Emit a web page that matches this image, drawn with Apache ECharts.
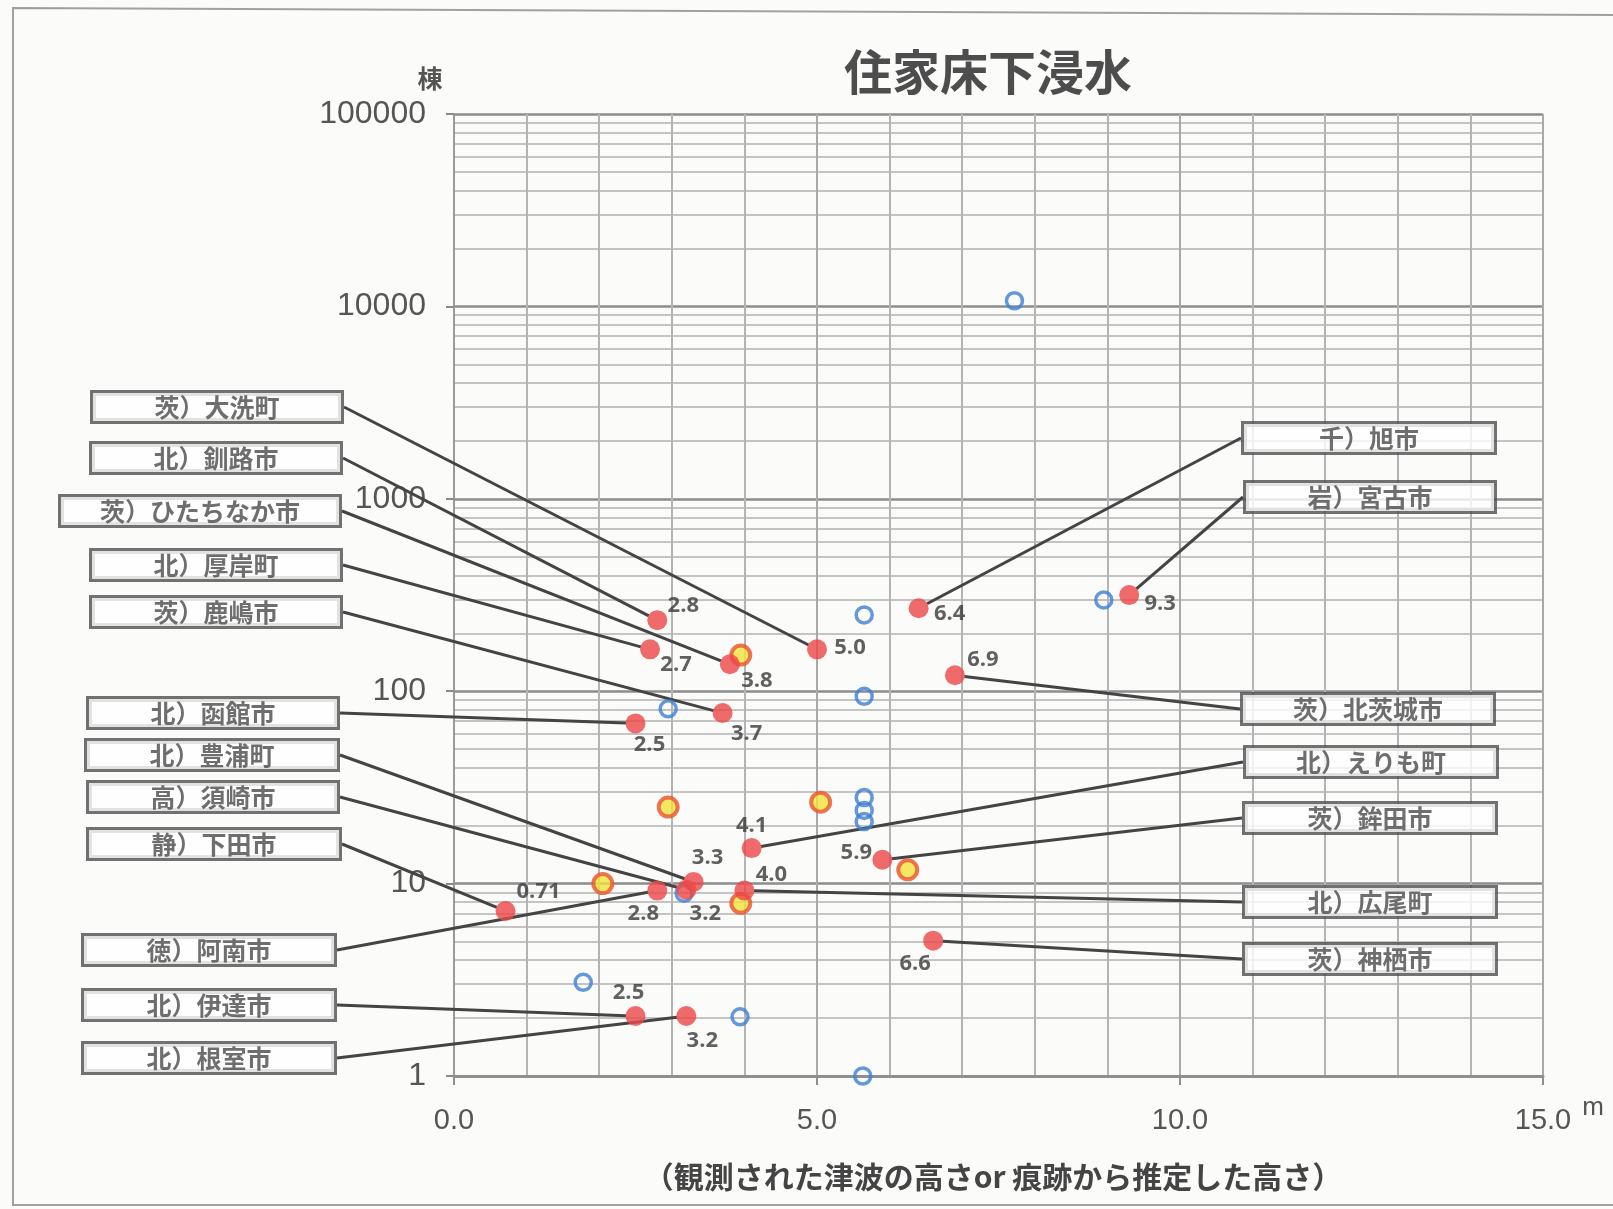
<!DOCTYPE html>
<html><head><meta charset="utf-8">
<script src="https://cdn.jsdelivr.net/npm/echarts@6/dist/echarts.min.js"></script>
<style>html,body{margin:0;padding:0;background:#fbfbfa}#c{width:1613px;height:1209px}</style>
</head><body><div id="c"></div>
<script>
// ---- data ----
const redNames = ['茨）大洗町','北）釧路市','茨）ひたちなか市','北）厚岸町','茨）鹿嶋市','北）函館市','北）豊浦町','高）須崎市','静）下田市','徳）阿南市','北）伊達市','北）根室市','千）旭市','岩）宮古市','茨）北茨城市','北）えりも町','茨）鉾田市','北）広尾町','茨）神栖市'];
const redX = [5.0, 2.8, 3.8, 2.7, 3.7, 2.5, 3.3, 3.2, 0.71, 2.8, 2.5, 3.2, 6.4, 9.3, 6.9, 4.1, 5.9, 4.0, 6.6];
const redY = [165, 234, 138, 165, 77, 68, 10.2, 9.3, 7.2, 9.2, 2.05, 2.05, 270, 316, 121, 15.3, 13.3, 9.2, 5.05];
const yellowX = [3.95, 2.95, 5.05, 2.05, 6.25, 3.95];
const yellowY = [154, 25, 26.5, 10, 11.8, 7.9];
const blueX = [7.72, 5.65, 2.95, 5.65, 5.65, 5.65, 5.65, 3.17, 1.78, 8.95, 3.94, 5.63];
const blueY = [10700, 249, 81, 94, 28, 24, 21, 8.9, 3.07, 298, 2.03, 1];
const xMin = 0, xMax = 15, xStep = 5;
const yMin = 1, yMax = 100000;

// ---- layout (annotation placement, px) ----
const boxPos = [[217,407],[216,458],[200,511],[216,565],[216,612],[213,713],[212,755],[213,797],[214,844],[209,950],[209,1005],[209,1058],
  [1369,438],[1370,497],[1368,709],[1371,762],[1370,818],[1370,902],[1370,959]];
const boxW = [248,248,278,248,248,248,250,248,250,250,250,250,250,248,250,250,250,250,250];
const valOff = [[33,-2],[26,-14],[27,16],[26,15],[24,21],[14,21],[14,-24],[19,24],[33,-19],[-14,23],[-7,-23],[16,25],[31,6],[31,9],[28,-16],[0,-22],[-26,-7],[27,-16],[-18,23]];

const chart = echarts.init(document.getElementById('c'));
const numFont = '"Open Sans", Lato, sans-serif';
const cjk = '"Noto Sans CJK JP", sans-serif';

chart.setOption({
  backgroundColor: '#fbfbfa',
  animation: false,
  grid: { left: 454, top: 114, width: 1089, height: 962 },
  xAxis: {
    type: 'value', min: xMin, max: xMax, interval: xStep,
    axisLine: { show: true, lineStyle: { color: '#8f8f8f', width: 3 } },
    axisTick: { show: true, length: 9, lineStyle: { color: '#8f8f8f', width: 2 } },
    axisLabel: { fontSize: 29, color: '#555', margin: 30, fontFamily: '"Liberation Sans", Arial, sans-serif', formatter: v => v.toFixed(1) },
    splitLine: { show: true, lineStyle: { color: '#a9a9a9', width: 2 } },
    minorTick: { show: false, splitNumber: 5 },
    minorSplitLine: { show: true, lineStyle: { color: '#b4b4b4', width: 2 } }
  },
  yAxis: {
    type: 'log', logBase: 10, min: yMin, max: yMax,
    axisLine: { show: true, lineStyle: { color: '#9a9a9a', width: 2 } },
    axisTick: { show: true, length: 8, lineStyle: { color: '#8a8a8a', width: 2 } },
    axisLabel: { fontSize: 32, color: '#555', margin: 28, fontFamily: '"Liberation Sans", Arial, sans-serif', formatter: v => String(Math.round(v)) },
    splitLine: { show: true, lineStyle: { color: '#8c8c8c', width: 2.5 } },
    minorTick: { show: false, splitNumber: 9 },
    minorSplitLine: { show: true, lineStyle: { color: '#b2b2b2', width: 1.6 } }
  },
  graphic: [
    { type: 'polyline', shape: { points: [[1613,15],[13,8],[13,1205],[1613,1205]] }, style: { stroke: '#a0a0a0', lineWidth: 2, fill: null }, silent: true },
    { type: 'text', x: 988, y: 72, style: { text: '住家床下浸水', font: 'bold 48px ' + cjk, fill: '#4d4d4d', align: 'center', verticalAlign: 'middle' } },
    { type: 'text', x: 430, y: 78, style: { text: '棟', font: 'bold 25px ' + cjk, fill: '#555', align: 'center', verticalAlign: 'middle' } },
    { type: 'text', x: 1593, y: 1108, style: { text: 'm', font: '26px "Liberation Sans", Arial, sans-serif', fill: '#555', align: 'center', verticalAlign: 'middle' } },
    { type: 'text', x: 993, y: 1177, style: { text: '（観測された津波の高さor 痕跡から推定した高さ）', font: 'bold 30px ' + cjk, fill: '#444', align: 'center', verticalAlign: 'middle' } }
  ],
  series: [
    {
      type: 'scatter', z: 3, symbol: 'circle', symbolSize: 16,
      itemStyle: { color: 'rgba(0,0,0,0)', borderColor: '#3d7fd4', borderWidth: 3.5 },
      data: blueX.map((x, i) => [x, blueY[i]])
    },
    {
      type: 'scatter', z: 2, symbolSize: 19,
      itemStyle: { color: 'rgba(0,0,0,0)' },
      data: redX.map((x, i) => ({ value: [x, redY[i]], name: redNames[i], label: { width: boxW[i] } })),
      label: {
        show: true, formatter: p => p.name,
        fontSize: 25, fontFamily: cjk, fontWeight: 'bold', color: '#4a4a4a',
        backgroundColor: '#ffffff', borderColor: '#4f4f4f', borderWidth: 3,
        height: 28, lineHeight: 28, padding: [0, 0], align: 'center'
      },
      labelLayout: p => ({ x: boxPos[p.dataIndex][0], y: boxPos[p.dataIndex][1], align: 'center', verticalAlign: 'middle' }),
      labelLine: { show: true, lineStyle: { color: '#444', width: 3 } }
    },
    {
      type: 'scatter', z: 4, symbolSize: 19,
      itemStyle: { color: '#f3e23c', borderColor: '#e9542e', borderWidth: 4 },
      data: yellowX.map((x, i) => [x, yellowY[i]])
    },
    {
      type: 'scatter', z: 5, symbolSize: 20,
      itemStyle: { color: '#ec4747' },
      data: redX.map((x, i) => ({ value: [x, redY[i]], label: { offset: valOff[i] } })),
      label: {
        show: true, position: 'inside',
        formatter: p => p.value[0].toFixed(p.value[0] < 1 ? 2 : 1),
        fontSize: 22, fontWeight: 'bold', fontFamily: numFont, color: '#3a3a3a'
      }
    }
  ]
});
</script></body></html>
